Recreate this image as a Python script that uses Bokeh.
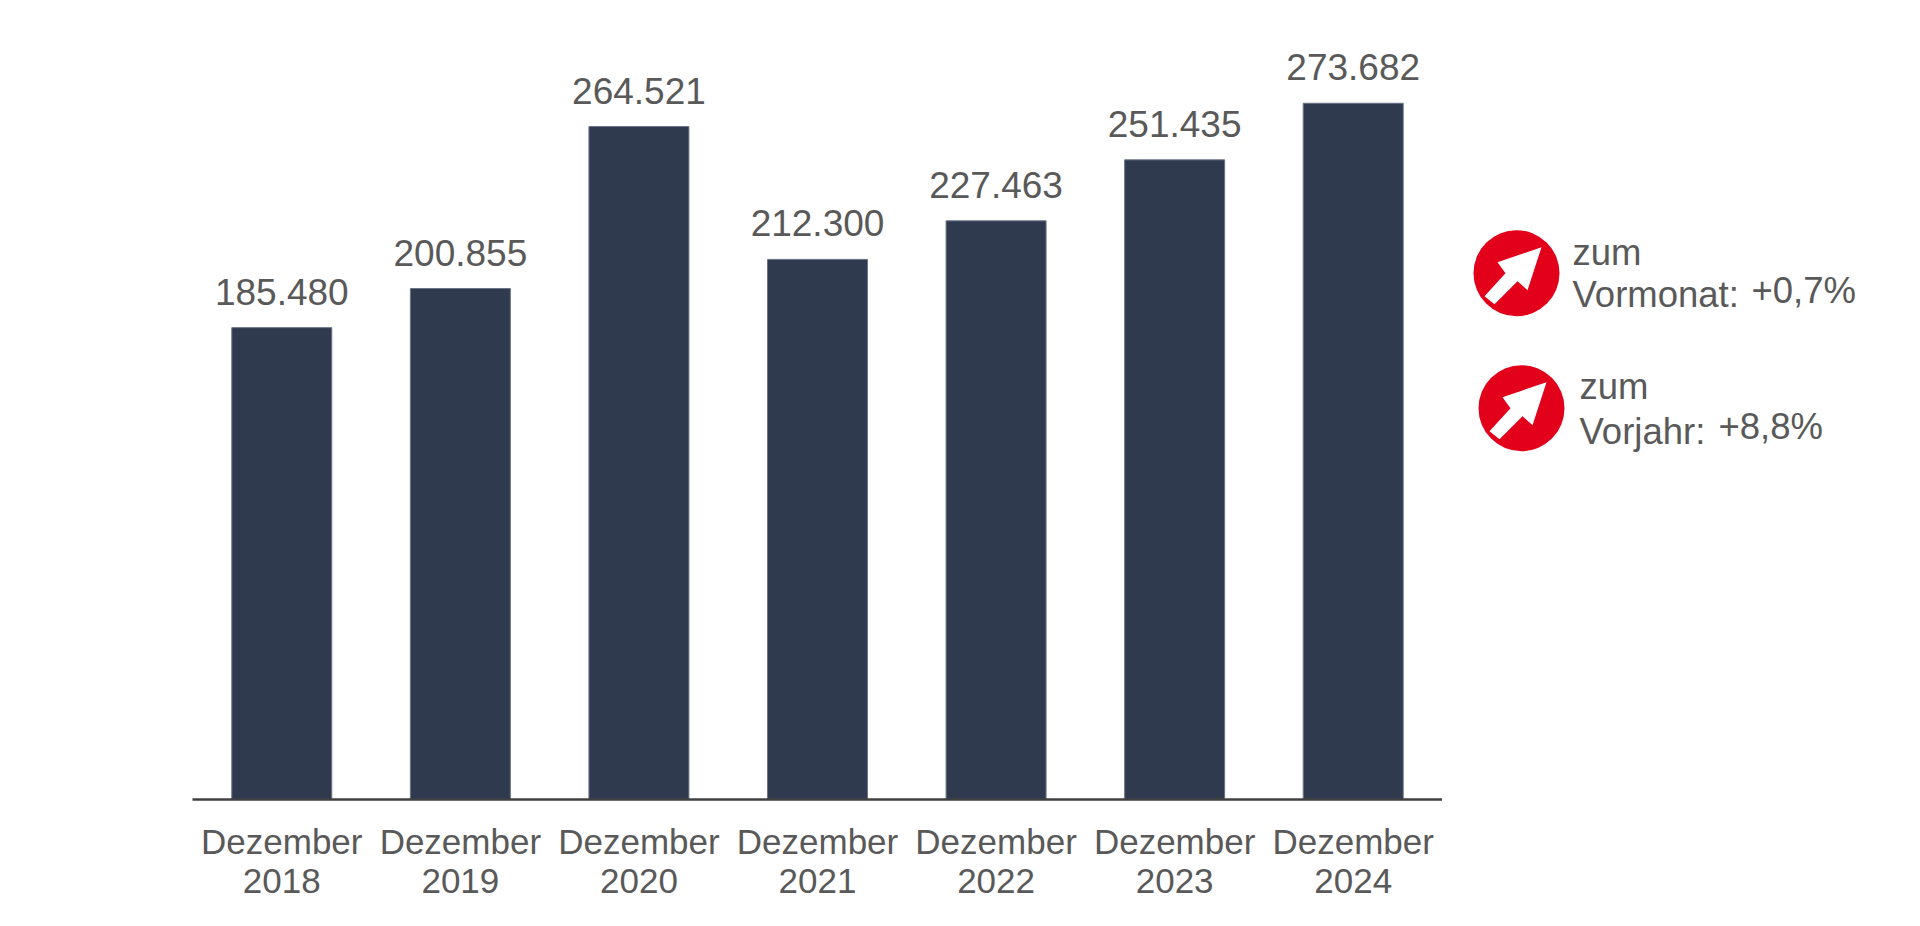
from bokeh.plotting import figure
from bokeh.layouts import row
from bokeh.models import ColumnDataSource, FactorRange, Range1d
from bokeh.core.properties import value
from bokeh.embed import file_html
from bokeh.resources import INLINE

month = "Dezember"
years = ["2018", "2019", "2020", "2021", "2022", "2023", "2024"]
values = [185480, 200855, 264521, 212300, 227463, 251435, 273682]

FONT = "Liberation Sans"
TEXT = "#595959"
RED = "#e2001a"
NAVY = "#303a4f"

labels = [f"{v:,}".replace(",", ".") for v in values]
factors = [(y, month) for y in years]

H = 905
FL, FT, FW, FH = 192, 47, 1250, 752

p = figure(x_range=FactorRange(factors=factors, range_padding=0, group_padding=0, factor_padding=0),
           y_range=Range1d(0, FH / 0.002544),
           frame_width=FW, frame_height=FH, width=FL + FW, height=H,
           min_border_left=FL, min_border_top=FT,
           min_border_right=0, min_border_bottom=H - FT - FH,
           output_backend="svg", toolbar_location=None,
           background_fill_color="white", border_fill_color="white")
p.outline_line_color = None
p.grid.visible = False
p.yaxis.visible = False
ax = p.xaxis[0]
ax.axis_line_color = "#404040"
ax.axis_line_width = 2.5
ax.major_tick_line_color = None
ax.minor_tick_line_color = None
ax.major_tick_out = 17
ax.separator_line_color = None
ax.major_label_text_font = FONT
ax.major_label_text_font_size = "35px"
ax.major_label_text_color = TEXT
ax.major_label_standoff = 5
ax.major_label_orientation = "horizontal"
ax.group_text_font = FONT
ax.group_text_font_size = "35px"
ax.group_text_font_style = "normal"
ax.group_text_color = TEXT
ax.group_label_orientation = "horizontal"

src = ColumnDataSource(dict(x=factors, top=values, label=labels))
p.vbar(x="x", top="top", bottom=0, width=100 / 178.6, source=src,
       fill_color=NAVY, line_color="#6b7385", line_width=1)
p.text(x="x", y="top", text="label", source=src, text_font=value(FONT),
       text_font_size="37px", text_color=TEXT, text_align="center",
       text_baseline="alphabetic", y_offset=-36)

# Side panel with the two change badges; its frame lines up with the chart's frame
q = figure(x_range=Range1d(FL + FW, 1910), y_range=Range1d(FT + FH - 1, FT - 1),
           width=1910 - FL - FW, height=H, min_border=0,
           x_axis_location=None, y_axis_location=None,
           output_backend="svg", toolbar_location=None,
           background_fill_color="white", border_fill_color="white")
q.outline_line_color = None
q.grid.visible = False

ARROW_X = [25, -19, -11, -32, -22, 1, 11]
ARROW_Y = [-26, -11, 0, 23, 31, 8, 17]
badge_x = [1516, 1521]
badge_y = [271.7, 406.7]
q.circle(x=badge_x, y=badge_y, radius=43, fill_color=RED, line_color=None)
for cx, cy in zip(badge_x, badge_y):
    q.patch([cx + a for a in ARROW_X], [cy + b for b in ARROW_Y], fill_color="white", line_color=None)

texts = ["zum", "Vormonat:", "+0,7%", "zum", "Vorjahr:", "+8,8%"]
text_x = [1572, 1572, 1751, 1579, 1579, 1718]
text_y = [251, 292.7, 289.3, 385, 430, 425]
q.text(x=text_x, y=text_y, text=texts, text_font=value(FONT), text_font_size="36.5px",
       text_color=TEXT, text_baseline="alphabetic")

open("out.html", "w").write(file_html(row(p, q, spacing=0), INLINE))
